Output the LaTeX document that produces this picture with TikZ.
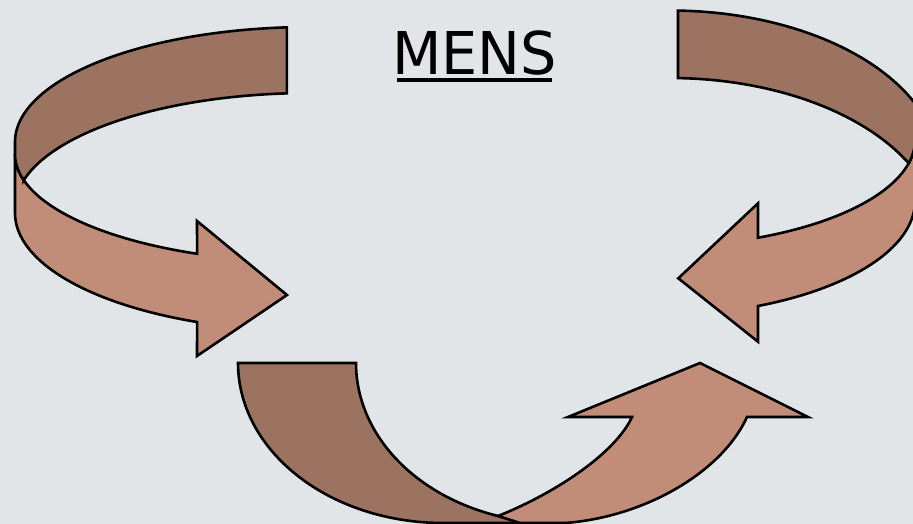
\documentclass[tikz,border=0pt]{standalone}
\usepackage{fontspec}
\newfontfamily\mensfont[FakeStretch=0.97]{DejaVu Sans}
\definecolor{bg}{HTML}{E1E5E8}
\definecolor{darkband}{HTML}{9B7360}
\definecolor{lightband}{HTML}{C18C78}
\begin{document}
\begin{tikzpicture}[x=1pt,y=-1pt,samples=60,
  band/.style={draw=black,line width=2.6pt,line join=miter},
  darkpart/.style={band,fill=darkband},
  lightpart/.style={band,fill=lightband}]
\fill[bg] (0,0) rectangle (913,524);
\useasboundingbox (0,0) rectangle (913,524);
% ---- left arrow ----
\filldraw[lightpart]
  plot[domain=180:112.5] ({310+295*cos(\x)},{213+118*sin(\x)})
  -- (197,356) -- (287,295) -- (197,221)
  -- plot[domain=112.5:180] ({310+295*cos(\x)},{154+108*sin(\x)})
  -- cycle;
\filldraw[darkpart]
  plot[domain=265.5:180] ({310+295*cos(\x)},{142+115*sin(\x)})
  -- plot[domain=180:166] ({310+295*cos(\x)},{154+108*sin(\x)})
  -- plot[domain=194:265.5] ({310+295*cos(\x)},{208+115*sin(\x)})
  -- cycle;
% ---- right arrow ----
\filldraw[lightpart]
  plot[domain=0:65.95] ({650+265*cos(\x)},{140+107*sin(\x)})
  -- (758,203.3) -- (678.3,278.3) -- (758,341.7)
  -- plot[domain=65.95:0] ({650+265*cos(\x)},{201+115*sin(\x)})
  -- cycle;
\filldraw[darkpart]
  plot[domain=271.7:360] ({670+270*cos(\x)},{170.5+160*sin(\x)})
  -- plot[domain=0:12.5] ({650+265*cos(\x)},{140+107*sin(\x)})
  -- plot[domain=332.1:271.7] ({670+270*cos(\x)},{238+160*sin(\x)})
  -- cycle;
% ---- bottom arrow ----
\filldraw[darkpart]
  plot[domain=180:90] ({443+205*cos(\x)},{363+160*sin(\x)})
  -- plot[domain=90:180] ({557+201*cos(\x)},{363+160*sin(\x)})
  -- cycle;
\filldraw[lightpart]
  (498,516) .. controls (558,492) and (616,452) .. (632,417)
  -- (568,417) -- (700,363) -- (808,417) -- (747,417)
  .. controls (722,472) and (645,517) .. (565,523)
  -- (520,523) -- cycle;
% ---- title ----
\node[font=\mensfont\fontsize{59}{59}\selectfont,inner sep=0pt,anchor=base] (title) at (474.5,75) {MENS};
\draw[line width=3.2pt] ([xshift=5pt,yshift=-5pt]title.base west) -- ([xshift=-5pt,yshift=-5pt]title.base east);
\end{tikzpicture}
\end{document}
